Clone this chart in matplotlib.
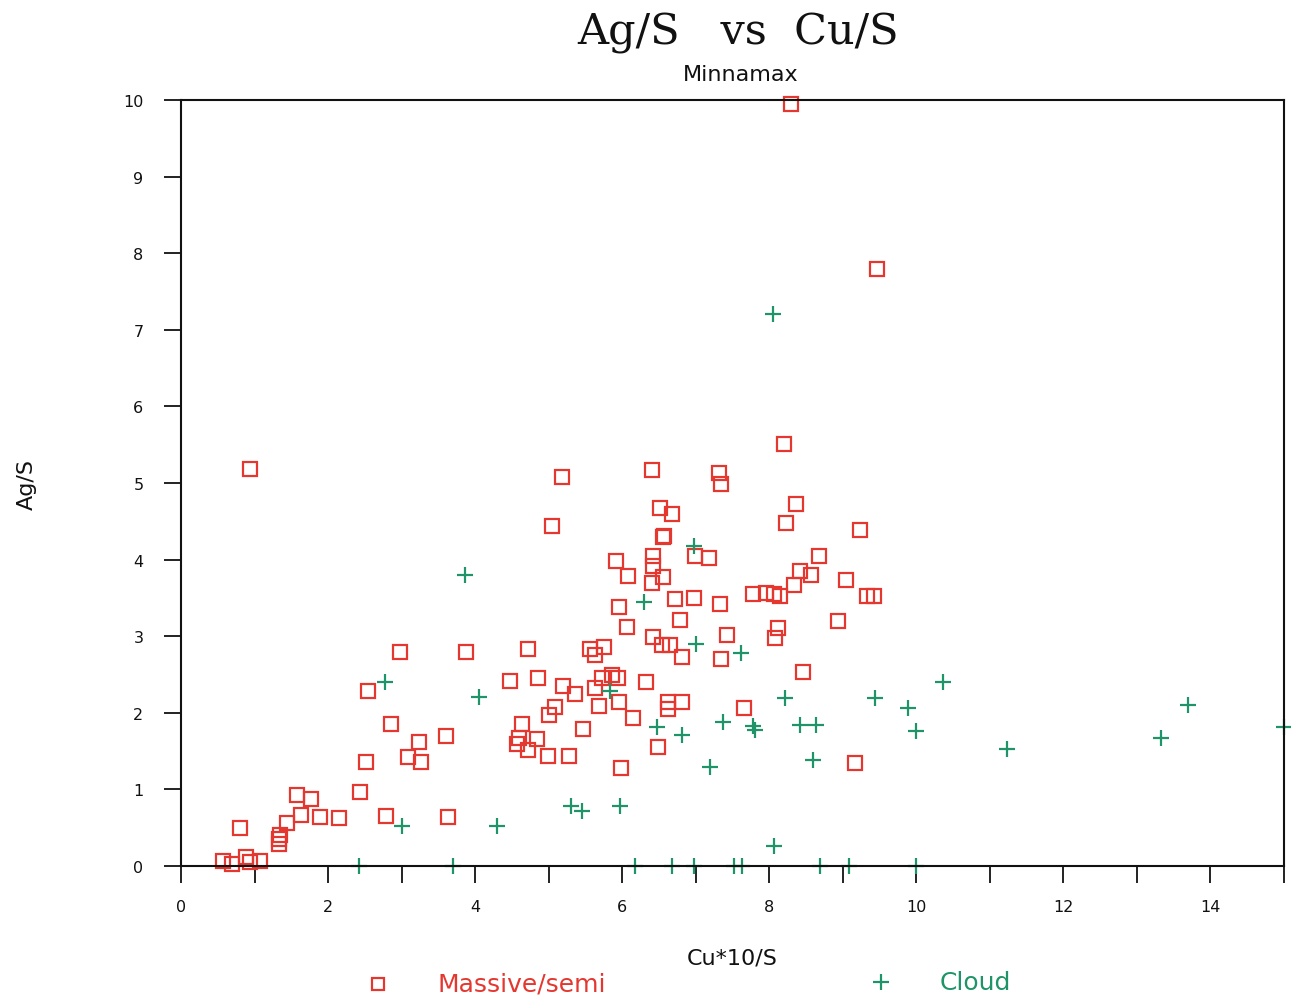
import matplotlib
matplotlib.use("Agg")
import matplotlib.pyplot as plt
from matplotlib.lines import Line2D

# ---- data ----
massive_x = [8.30, 9.47, 0.94, 8.20, 5.18, 6.41, 7.31, 7.34, 8.37, 6.51, 6.68, 8.23, 5.05, 9.24,
             6.55, 6.57, 6.99, 7.18, 5.91, 6.42, 6.42, 6.08, 6.55, 6.41, 8.67, 8.42, 8.57, 8.33,
             9.05, 7.78, 7.96, 8.07, 8.14, 9.33, 9.43, 6.72, 6.98, 7.33, 5.96, 6.78, 8.93, 6.07,
             8.12, 8.08, 7.43, 6.42, 6.54, 6.65, 6.82, 7.34, 8.46, 2.98, 3.88, 4.72, 5.56, 5.63,
             5.75, 5.73, 5.86, 5.94, 4.48, 4.86, 5.20, 5.36, 5.63, 6.32, 2.54, 6.62, 6.62, 6.82,
             5.08, 5.00, 5.68, 6.15, 7.66, 5.96, 4.64, 2.86, 5.47, 3.61, 3.23, 4.59, 4.57, 4.84,
             4.72, 4.99, 5.27, 6.49, 3.09, 3.26, 2.52, 5.98, 9.17, 2.44, 1.58, 1.77, 3.63, 2.79,
             1.89, 2.15, 1.63, 1.44, 1.35, 1.33, 1.33, 0.80, 0.57, 0.69, 0.88, 0.94, 1.08]
massive_y = [9.95, 7.79, 5.18, 5.51, 5.08, 5.17, 5.13, 4.99, 4.72, 4.67, 4.60, 4.48, 4.44, 4.39,
             4.30, 4.31, 4.05, 4.02, 3.98, 4.05, 3.92, 3.79, 3.77, 3.69, 4.05, 3.85, 3.80, 3.67,
             3.73, 3.55, 3.57, 3.55, 3.53, 3.53, 3.52, 3.49, 3.50, 3.42, 3.38, 3.21, 3.20, 3.12,
             3.11, 2.97, 3.02, 2.99, 2.88, 2.88, 2.73, 2.70, 2.53, 2.79, 2.80, 2.83, 2.83, 2.75,
             2.86, 2.46, 2.50, 2.46, 2.41, 2.45, 2.35, 2.25, 2.32, 2.40, 2.28, 2.14, 2.05, 2.14,
             2.07, 1.97, 2.09, 1.93, 2.06, 2.14, 1.86, 1.86, 1.79, 1.70, 1.62, 1.67, 1.59, 1.66,
             1.51, 1.43, 1.43, 1.56, 1.42, 1.36, 1.36, 1.28, 1.34, 0.96, 0.93, 0.88, 0.64, 0.65,
             0.64, 0.63, 0.67, 0.56, 0.40, 0.35, 0.29, 0.50, 0.07, 0.03, 0.12, 0.05, 0.07]

cloud_x = [8.05, 3.86, 6.97, 6.30, 4.05, 2.78, 7.01, 7.61, 5.83, 6.47, 6.81, 7.37, 7.78, 7.81,
           7.20, 8.22, 8.42, 8.64, 8.59, 9.44, 9.89, 10.00, 10.36, 11.23, 13.33, 13.69, 15.00,
           3.01, 4.30, 5.30, 5.46, 5.97, 8.06, 2.42, 3.70, 6.18, 6.68, 6.98, 7.52, 7.63, 8.69,
           9.08, 10.00]
cloud_y = [7.20, 3.80, 4.18, 3.45, 2.21, 2.40, 2.90, 2.78, 2.29, 1.81, 1.71, 1.88, 1.83, 1.77,
           1.29, 2.19, 1.84, 1.84, 1.38, 2.19, 2.06, 1.76, 2.40, 1.53, 1.67, 2.10, 1.81,
           0.52, 0.52, 0.78, 0.72, 0.78, 0.26, 0.00, 0.00, 0.00, 0.00, 0.00, 0.00, 0.00, 0.00,
           0.00, 0.00]

x_ticks = list(range(0, 16))
x_labels = [str(v) if v % 2 == 0 else "" for v in x_ticks]
y_ticks = list(range(0, 11))

RED = "#e4372f"
GREEN = "#1f9468"

W, H = 1291, 1003
fig = plt.figure(figsize=(W / 100, H / 100), dpi=100)
fig.patch.set_facecolor("white")
ax = fig.add_axes([181 / W, (H - 867) / H, 1103 / W, 766 / H])

ax.plot(massive_x, massive_y, linestyle="none", marker="s", markersize=10,
        markerfacecolor="none", markeredgecolor=RED, markeredgewidth=1.6, clip_on=False)
ax.plot(cloud_x, cloud_y, linestyle="none", marker="+", markersize=12,
        markeredgecolor=GREEN, markeredgewidth=1.6, clip_on=False)

ax.set_xlim(0, 15)
ax.set_ylim(0, 10)
ax.set_xticks(x_ticks)
ax.set_xticklabels(x_labels)
ax.set_yticks(y_ticks)
for s in ax.spines.values():
    s.set_linewidth(1.5)
    s.set_color("#111111")
ax.tick_params(axis="both", direction="out", length=12, width=1.3, labelsize=11.5, colors="#111111")
ax.tick_params(axis="x", pad=12)
ax.tick_params(axis="y", pad=15)

ax.set_xlabel("Cu*10/S", fontsize=16, labelpad=24, color="#111111")
ax.set_ylabel("Ag/S", fontsize=16, labelpad=62, color="#111111")

fig.text(738 / W, 1 - 33 / H, "Ag/S   vs  Cu/S", family="DejaVu Serif", fontsize=31,
         ha="center", va="center", color="#111111")
fig.text(741 / W, 1 - 75 / H, "Minnamax", fontsize=16, ha="center", va="center", color="#111111")

# legend below the axis
fig.add_artist(Line2D([378 / W], [1 - 985 / H], transform=fig.transFigure, marker="s",
                      markersize=9, markerfacecolor="none", markeredgecolor=RED,
                      markeredgewidth=1.6, linestyle="none"))
fig.text(437 / W, 1 - 985 / H, "Massive/semi", fontsize=18, color=RED, ha="left", va="center")
fig.add_artist(Line2D([881 / W], [1 - 983 / H], transform=fig.transFigure, marker="+",
                      markersize=12, markeredgecolor=GREEN, markeredgewidth=1.6,
                      linestyle="none"))
fig.text(940 / W, 1 - 983 / H, "Cloud", fontsize=18, color=GREEN, ha="left", va="center")

fig.savefig("out.png", dpi=100, facecolor="white")
